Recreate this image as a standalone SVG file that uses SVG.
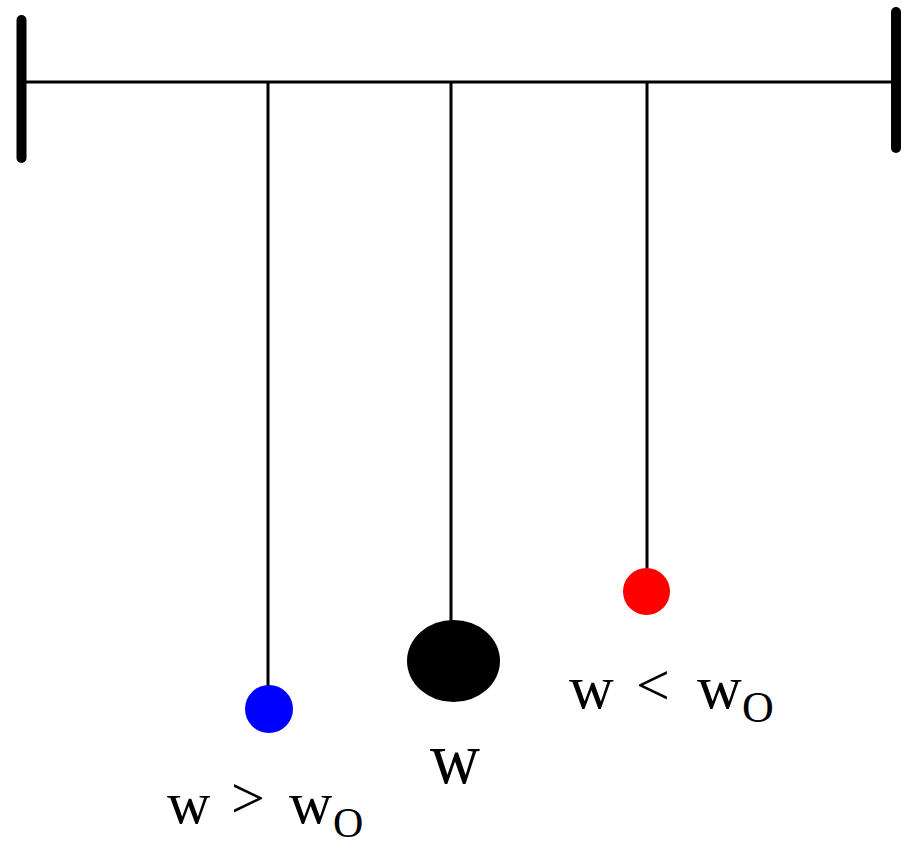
<svg xmlns="http://www.w3.org/2000/svg" width="903" height="847" viewBox="0 0 903 847">
<style>
.ln{stroke:#000;stroke-width:3;fill:none}
.bar{stroke:#000;stroke-width:10;stroke-linecap:round}
.t{font-family:"Liberation Serif","Times New Roman",serif;fill:#000}
</style>
<rect width="903" height="847" fill="#fff"/>
<g id="support">
<line class="bar" x1="21.5" y1="20" x2="21.5" y2="158"/>
<line class="bar" x1="896" y1="12" x2="896" y2="148"/>
<line class="ln" x1="22" y1="82" x2="896" y2="82" stroke-width="4"/>
</g>
<g id="connectors">
<line class="ln" x1="268" y1="82" x2="268" y2="690"/>
<line class="ln" x1="451" y1="82" x2="451" y2="625"/>
<line class="ln" x1="647" y1="82" x2="647" y2="572"/>
</g>
<g id="blue">
<circle cx="269" cy="709" r="24" fill="#0000ff"/>
<text class="t" font-size="60"><tspan x="167" y="823">w</tspan><tspan x="231" y="818">&gt;</tspan><tspan x="289" y="823">w</tspan><tspan x="333" y="837" font-size="42">O</tspan></text>
</g>
<g id="black">
<ellipse cx="453.5" cy="661" rx="46.5" ry="41" fill="#000"/>
<text class="t" x="430" y="783" font-size="74" textLength="50" lengthAdjust="spacingAndGlyphs">w</text>
</g>
<g id="red">
<circle cx="646.5" cy="591.5" r="23.5" fill="#ff0000"/>
<text class="t" font-size="62"><tspan x="569" y="708">w</tspan><tspan x="636" y="705" font-size="60">&lt;</tspan><tspan x="697" y="708">w</tspan><tspan x="742" y="722" font-size="44">O</tspan></text>
</g>
</svg>
